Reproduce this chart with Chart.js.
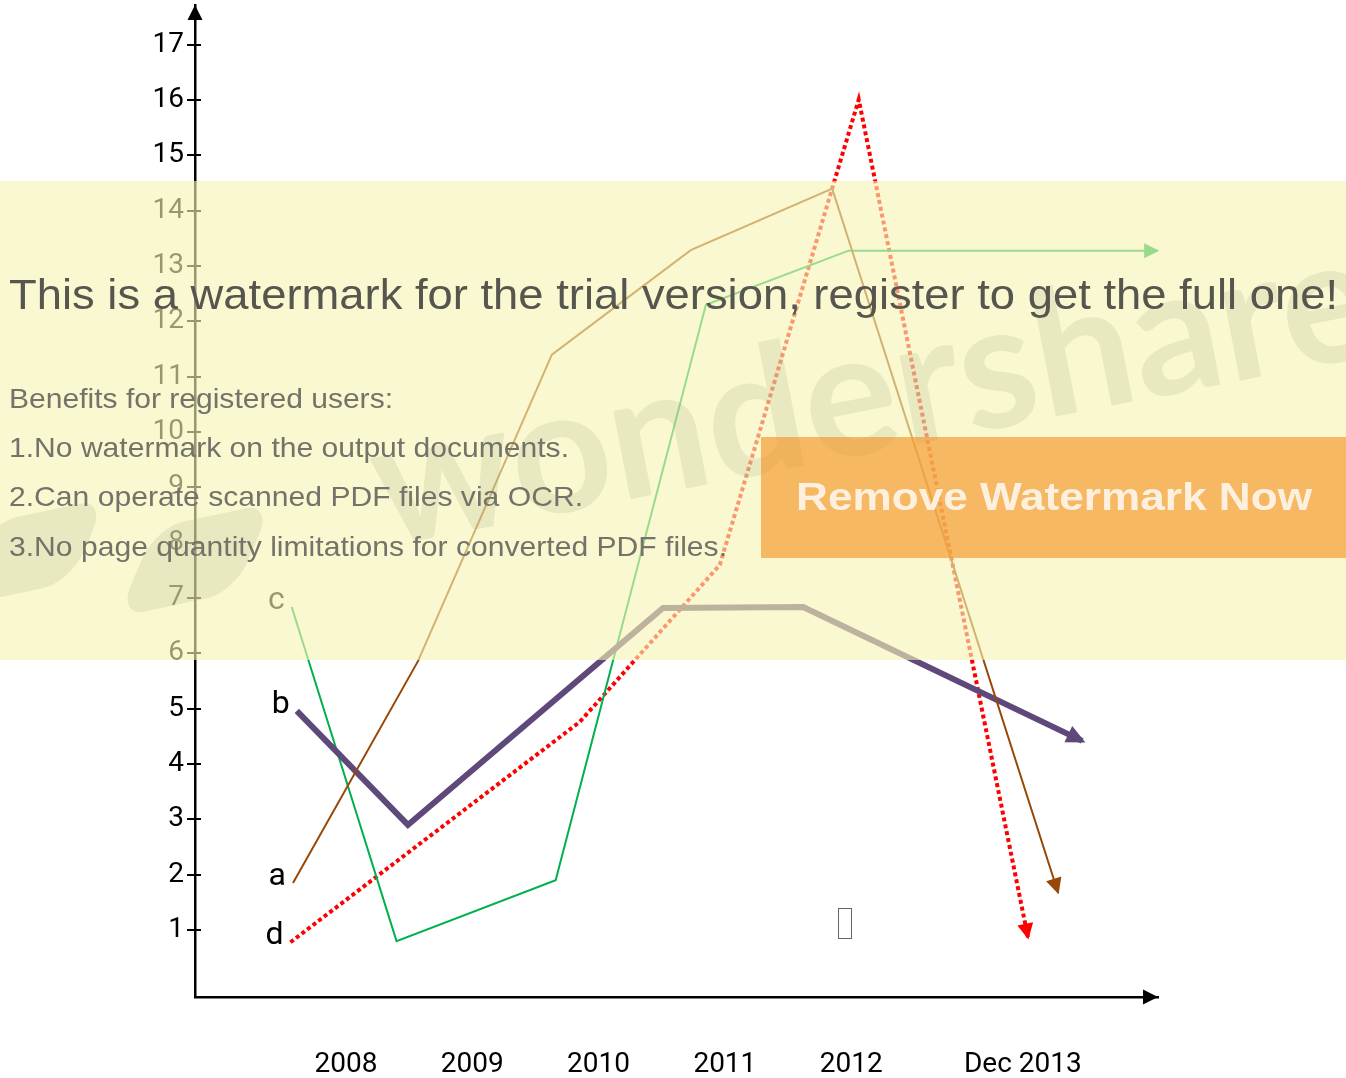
<!DOCTYPE html>
<html><head><meta charset="utf-8">
<script src="https://cdn.jsdelivr.net/npm/chart.js@4"></script>
<style>
html,body{margin:0;padding:0;background:#fff;}
#wrap{position:relative;width:1346px;height:1078px;overflow:hidden;}
#c{position:absolute;left:0;top:0;}
.ov{position:absolute;white-space:nowrap;line-height:1;}
.fit{transform-origin:0 0;display:inline-block;}
</style></head><body>
<div id="wrap">
<canvas id="c" width="1346" height="1078"></canvas>
<div class="ov" style="left:0;top:181px;width:1346px;height:479px;background:rgba(247,244,179,0.62)"></div>
<div class="ov" style="left:-30px;top:515px;width:120px;height:75px;border-radius:28px;background:rgba(150,160,120,0.18);transform:rotate(-12deg) skewX(-35deg)"></div>
<div class="ov" style="left:135px;top:520px;width:120px;height:80px;border-radius:28px;background:rgba(150,160,120,0.18);transform:rotate(-12deg) skewX(-35deg)"></div>
<div class="ov" style="left:385px;top:392px;font-family:Lato,'Open Sans',sans-serif;font-weight:700;font-size:175px;color:rgba(150,160,120,0.18);transform-origin:0 155px;transform:rotate(-11deg)">wondershare</div>
<div class="ov" style="left:9px;top:274px;font-family:'Liberation Sans',Arial,sans-serif;font-size:42px;color:#56564f"><span class="fit" data-w="1329">This is a watermark for the trial version, register to get the full one!</span></div>
<div class="ov" style="left:9px;top:385px;font-family:'Liberation Sans',Arial,sans-serif;font-size:28px;color:#737369"><span class="fit" data-w="384">Benefits for registered users:</span></div>
<div class="ov" style="left:9px;top:434px;font-family:'Liberation Sans',Arial,sans-serif;font-size:28px;color:#737369"><span class="fit" data-w="560">1.No watermark on the output documents.</span></div>
<div class="ov" style="left:9px;top:483px;font-family:'Liberation Sans',Arial,sans-serif;font-size:28px;color:#737369"><span class="fit" data-w="574">2.Can operate scanned PDF files via OCR.</span></div>
<div class="ov" style="left:9px;top:533px;font-family:'Liberation Sans',Arial,sans-serif;font-size:28px;color:#737369"><span class="fit" data-w="718">3.No page quantity limitations for converted PDF files.</span></div>
<div class="ov" style="left:761px;top:437px;width:585px;height:121px;background:rgba(243,157,51,0.7)"></div>
<div class="ov" style="left:796px;top:477px;font-family:'Liberation Sans',Arial,sans-serif;font-weight:700;font-size:39px;color:#fdf0de"><span class="fit" data-w="516">Remove Watermark Now</span></div>
<div class="ov" style="left:838px;top:908px;width:14px;height:31px;border:1.5px solid #666;box-sizing:border-box"></div>
</div>
<script>
// ---- data ----
const seriesNames = ['a', 'b', 'c', 'd'];
const aX = [2007.58, 2008.57, 2009.63, 2010.73, 2011.85, 2013.64];
const aY = [1.85, 5.86, 11.40, 13.29, 14.40, 1.67];
const bX = [2007.61, 2008.49, 2010.51, 2011.62, 2013.83];
const bY = [4.96, 2.90, 6.82, 6.84, 4.42];
const cX = [2007.57, 2008.40, 2009.66, 2010.85, 2011.98, 2014.43];
const cY = [6.84, 0.80, 1.90, 12.30, 13.28, 13.28];
const dX = [2007.56, 2009.85, 2010.96, 2012.06, 2013.40];
const dY = [0.78, 4.76, 7.60, 16.01, 0.87];
const xTickValues = [2008, 2009, 2010, 2011, 2012, 2013.36];
const xTickLabels = ['2008', '2009', '2010', '2011', '2012', 'Dec 2013'];
const yTickValues = [1, 2, 3, 4, 5, 6, 7, 8, 9, 10, 11, 12, 13, 14, 15, 16, 17];

const pts = (xs, ys) => xs.map((x, i) => ({x: x, y: ys[i]}));

Chart.defaults.font.family = 'Roboto';

const deco = {
  id: 'deco',
  afterDatasetsDraw(chart) {
    const ctx = chart.ctx;
    chart.data.datasets.forEach((ds, i) => {
      const d = chart.getDatasetMeta(i).data;
      const n = d.length;
      const p1 = d[n - 2], p2 = d[n - 1];
      const dx = p2.x - p1.x, dy = p2.y - p1.y, len = Math.hypot(dx, dy);
      const ux = dx / len, uy = dy / len;
      const L = ds.arrowLen, W = ds.arrowHalf, ext = ds.borderWidth * 0.6;
      const tx = p2.x + ux * ext, ty = p2.y + uy * ext;
      const bx = tx - ux * L, by = ty - uy * L;
      ctx.save();
      ctx.fillStyle = ds.borderColor;
      ctx.beginPath();
      ctx.moveTo(tx, ty);
      ctx.lineTo(bx - uy * W, by + ux * W);
      ctx.lineTo(bx + uy * W, by - ux * W);
      ctx.closePath();
      ctx.fill();
      // series name label
      ctx.fillStyle = '#000';
      ctx.font = '32px Roboto';
      ctx.textAlign = 'right';
      ctx.textBaseline = 'middle';
      ctx.fillText(ds.label, d[0].x - 7, d[0].y - 6);
      ctx.restore();
    });
  },
  afterDraw(chart) {
    const ctx = chart.ctx, a = chart.chartArea, ys = chart.scales.y;
    ctx.save();
    ctx.fillStyle = '#000';
    ctx.strokeStyle = '#000';
    ctx.lineWidth = 2;
    ys.ticks.forEach(t => {
      const py = Math.round(ys.getPixelForValue(t.value));
      ctx.beginPath();
      ctx.moveTo(a.left, py);
      ctx.lineTo(a.left + 6, py);
      ctx.stroke();
    });
    // axis arrows
    ctx.beginPath();
    ctx.moveTo(a.left, a.top);
    ctx.lineTo(a.left - 7.5, a.top + 15);
    ctx.lineTo(a.left + 7.5, a.top + 15);
    ctx.closePath();
    ctx.fill();
    ctx.beginPath();
    ctx.moveTo(a.right, a.bottom);
    ctx.lineTo(a.right - 15, a.bottom - 7.5);
    ctx.lineTo(a.right - 15, a.bottom + 7.5);
    ctx.closePath();
    ctx.fill();
    ctx.restore();
  }
};

new Chart(document.getElementById('c'), {
  type: 'scatter',
  data: {
    datasets: [
      {label: seriesNames[0], data: pts(aX, aY), borderColor: '#974806', borderWidth: 2, arrowLen: 16, arrowHalf: 8},
      {label: seriesNames[1], data: pts(bX, bY), borderColor: '#5F497A', borderWidth: 6, arrowLen: 19, arrowHalf: 9},
      {label: seriesNames[2], data: pts(cX, cY), borderColor: '#00B050', borderWidth: 2, arrowLen: 15, arrowHalf: 7.5},
      {label: seriesNames[3], data: pts(dX, dY), borderColor: '#FF0000', borderWidth: 4, borderDash: [4, 3], arrowLen: 16, arrowHalf: 8}
    ].map(ds => Object.assign(ds, {showLine: true, pointRadius: 0, pointHoverRadius: 0, tension: 0, clip: false, borderCapStyle: 'butt', borderJoinStyle: 'miter'}))
  },
  options: {
    responsive: false,
    animation: false,
    events: [],
    layout: {padding: {left: 0, right: 188, top: 5, bottom: 0}},
    plugins: {legend: {display: false}, tooltip: {enabled: false}},
    scales: {
      x: {
        type: 'linear', min: 2006.804, max: 2014.43,
        afterBuildTicks: s => { s.ticks = xTickValues.map(v => ({value: v})); },
        afterFit: s => { s.height = 81; s.paddingLeft = 0; s.paddingRight = 0; s.paddingTop = 0; s.paddingBottom = 0; },
        grid: {display: false, drawTicks: false},
        border: {display: true, color: '#000', width: 2.5},
        ticks: {autoSkip: false, maxRotation: 0, padding: 51, color: '#000', font: {size: 28},
          callback: (v, i) => xTickLabels[i]}
      },
      y: {
        type: 'linear', min: -0.21, max: 17.72,
        afterBuildTicks: s => { s.ticks = yTickValues.map(v => ({value: v})); },
        afterFit: s => { s.width = 195; s.paddingTop = 0; s.paddingBottom = 0; s.paddingLeft = 0; s.paddingRight = 0; },
        grid: {display: true, drawOnChartArea: false, drawTicks: true, tickLength: 8, color: '#000', lineWidth: 2},
        border: {display: true, color: '#000', width: 2.5},
        ticks: {autoSkip: false, padding: 3, color: '#000', font: {size: 28},
          callback: v => String(v)}
      }
    }
  },
  plugins: [deco]
});

document.querySelectorAll('.fit').forEach(el => {
  const w = el.getBoundingClientRect().width;
  el.style.transform = 'scaleX(' + (parseFloat(el.dataset.w) / w) + ')';
});
</script>
</body></html>
